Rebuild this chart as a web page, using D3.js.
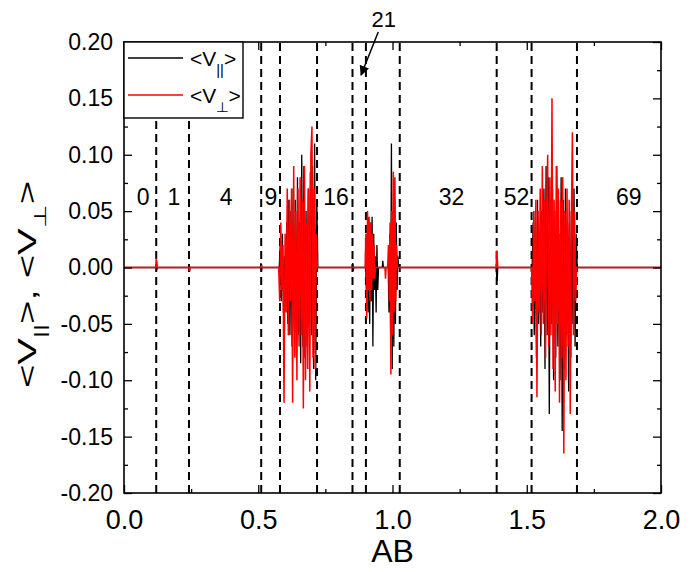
<!DOCTYPE html>
<html><head><meta charset="utf-8">
<script src="https://cdn.jsdelivr.net/npm/d3@7"></script>
<style>body{margin:0;background:#fff}svg{display:block}text{font-family:"Liberation Sans",Arial,sans-serif}</style>
</head><body><svg id="c" width="694" height="572"></svg>
<script>
// ---- data ----
const xTicks = [0, 0.5, 1.0, 1.5, 2.0];
const xMinor = [0.25, 0.75, 1.25, 1.75];
const yTicks = [-0.20, -0.15, -0.10, -0.05, 0.00, 0.05, 0.10, 0.15, 0.20];
const yMinor = [-0.175, -0.125, -0.075, -0.025, 0.025, 0.075, 0.125, 0.175];
const dashedX = [0.12, 0.242, 0.511, 0.581, 0.719, 0.851, 0.901, 1.027, 1.388, 1.518, 1.687];
const regionLabels = ["0", "1", "4", "9", "16", "32", "52", "69"];
const regionLabelX = [0.071, 0.186, 0.38, 0.547, 0.79, 1.22, 1.462, 1.88];
const regionLabelY = 0.055;
const arrowLabel = "21";

const vPar = [
 [0,0],[0.118,0],[0.12,0.003],[0.122,-0.002],[0.124,0],[0.24,0],[0.242,0.003],[0.244,-0.004],[0.246,0],
 [0.508,0],[0.51,0.004],[0.512,-0.003],[0.514,0],
 [0.578,0],[0.582,0.02],[0.586,-0.03],[0.590,0.03],[0.594,-0.04],[0.598,0.01],[0.602,-0.02],[0.606,0.04],
 [0.610,-0.05],[0.614,0.06],[0.618,-0.06],[0.622,0.05],[0.626,-0.07],[0.630,0.07],[0.634,-0.05],[0.638,0.06],
 [0.642,-0.08],[0.646,0.08],[0.650,-0.06],[0.654,0.04],[0.658,-0.085],[0.662,0.10],[0.666,-0.07],[0.670,0.09],
 [0.674,-0.08],[0.678,0.05],[0.682,-0.07],[0.686,0.07],[0.690,-0.05],[0.694,0.085],[0.698,-0.06],[0.702,0.09],
 [0.706,-0.09],[0.710,0.11],[0.714,-0.10],[0.718,0.06],[0.722,0],
 [0.85,0],[0.852,0.004],[0.854,-0.003],[0.856,0],
 [0.900,0],[0.903,-0.02],[0.906,0.03],[0.909,-0.04],[0.912,0.02],[0.915,-0.05],[0.918,0.04],[0.921,-0.03],
 [0.924,0.045],[0.927,-0.07],[0.930,0.03],[0.933,-0.02],[0.936,0.01],[0.939,-0.04],[0.942,0.02],[0.945,-0.02],[0.948,0],
 [0.962,0],[0.964,0.006],[0.966,0],
 [0.984,0],[0.987,-0.04],[0.990,0.03],[0.993,-0.06],[0.996,0.11],[0.999,-0.09],[1.002,0.05],[1.005,-0.07],
 [1.008,0.06],[1.011,-0.05],[1.014,0.04],[1.017,-0.02],[1.020,0.01],[1.023,0],
 [1.386,0],[1.388,-0.008],[1.390,-0.012],[1.392,0],
 [1.520,0],[1.524,0.04],[1.528,-0.06],[1.532,0.05],[1.536,-0.08],[1.540,0.06],[1.544,-0.05],[1.548,0.03],
 [1.552,-0.07],[1.556,0.05],[1.560,-0.04],[1.564,0.07],[1.568,-0.09],[1.572,0.09],[1.576,-0.06],[1.580,0.08],
 [1.584,-0.13],[1.588,0.06],[1.592,-0.05],[1.596,0.07],[1.600,-0.10],[1.604,0.05],[1.608,-0.08],[1.612,0.09],
 [1.616,-0.07],[1.620,0.03],[1.624,-0.10],[1.628,0.08],[1.632,-0.145],[1.636,0.06],[1.640,-0.09],[1.644,0.07],
 [1.648,-0.06],[1.652,0.04],[1.656,-0.11],[1.660,0.05],[1.664,-0.08],[1.668,0.06],[1.672,-0.05],[1.676,0.07],
 [1.680,-0.07],[1.684,0.03],[1.688,0],
 [2.0,0]
];
const vPerp = [
 [0,0],[0.118,0],[0.120,0.007],[0.122,0.006],[0.124,0],[0.242,0],[0.244,-0.003],[0.246,0],
 [0.51,0],[0.512,0.002],[0.514,0],
 [0.576,0],[0.580,-0.03],[0.584,0.04],[0.588,-0.02],[0.592,0.02],[0.596,-0.12],[0.600,0.03],[0.604,-0.04],
 [0.608,0.07],[0.612,-0.06],[0.616,0.06],[0.620,-0.03],[0.624,0.07],[0.628,-0.12],[0.632,0.09],[0.636,-0.08],
 [0.640,0.05],[0.644,-0.10],[0.648,0.07],[0.652,-0.07],[0.656,0.08],[0.660,-0.06],[0.664,0.06],[0.668,-0.125],
 [0.672,0.09],[0.676,-0.10],[0.680,0.04],[0.684,-0.09],[0.688,0.07],[0.692,-0.11],[0.696,0.10],[0.700,0.125],
 [0.704,-0.08],[0.708,0.07],[0.712,-0.09],[0.716,0.03],[0.720,0],
 [0.898,0],[0.901,0.03],[0.904,-0.045],[0.907,0.05],[0.910,-0.02],[0.913,0.045],[0.916,-0.03],[0.919,0.04],
 [0.922,-0.02],[0.925,0.03],[0.928,-0.01],[0.931,0.02],[0.934,-0.01],[0.937,0],
 [0.972,0],[0.974,-0.01],[0.976,0],
 [0.982,0],[0.985,0.02],[0.988,-0.03],[0.991,0.04],[0.994,-0.095],[0.997,0.05],[1.000,-0.06],[1.003,0.085],
 [1.006,-0.04],[1.009,0.08],[1.012,-0.03],[1.015,0.02],[1.018,0],
 [1.386,0],[1.388,0.015],[1.390,0.01],[1.392,0],
 [1.518,0],[1.522,-0.05],[1.526,0.05],[1.530,-0.03],[1.534,0.06],[1.538,-0.115],[1.542,0.05],[1.546,-0.04],
 [1.550,0.07],[1.554,-0.06],[1.558,0.09],[1.562,-0.05],[1.566,0.06],[1.570,-0.08],[1.574,0.05],[1.578,0.10],
 [1.582,-0.07],[1.586,0.08],[1.590,-0.06],[1.594,0.15],[1.598,-0.09],[1.602,0.06],[1.606,-0.11],[1.610,0.09],
 [1.614,-0.05],[1.618,0.07],[1.622,-0.12],[1.626,0.06],[1.630,-0.08],[1.634,0.08],[1.638,-0.165],[1.642,0.05],
 [1.646,-0.10],[1.650,0.07],[1.654,-0.07],[1.658,0.06],[1.662,-0.13],[1.666,0.04],[1.670,0.12],[1.674,-0.06],
 [1.678,0.05],[1.682,-0.03],[1.686,0],
 [2.0,0]
];

// ---- drawing ----
const svg = d3.select("#c");
const L = 124, R = 661, T = 42, B = 493;
const x = d3.scaleLinear().domain([0, 2]).range([L, R]);
const y = d3.scaleLinear().domain([-0.2, 0.2]).range([B, T]);

// dashed lines
const legendBottom = 118, legendRight = 243;
svg.append("g").selectAll("line").data(dashedX).join("line")
  .attr("x1", d => x(d)).attr("x2", d => x(d))
  .attr("y1", B).attr("y2", d => x(d) < legendRight ? legendBottom : T)
  .attr("stroke", "#000").attr("stroke-width", 2).attr("stroke-dasharray", "8,5");

// series
const line = d3.line().x(d => x(d[0])).y(d => y(d[1]));
svg.append("path").datum(vPar).attr("d", line).attr("fill", "none").attr("stroke", "#000").attr("stroke-width", 1.3);
svg.append("path").datum(vPerp).attr("d", line).attr("fill", "none").attr("stroke", "#ff0000").attr("stroke-width", 1.5);

// axes
function styleAxis(fs) {
  return g => {
    g.select(".domain").remove();
    g.selectAll("line").attr("stroke", "#000").attr("stroke-width", 1.3);
    g.selectAll("text").attr("font-size", fs).attr("fill", "#000").style("font-family", "Liberation Sans, Arial, sans-serif");
  };
}
const fmtX = d => d3.format(".1f")(d).replace("\u2212", "-");
const fmtY = d => d3.format(".2f")(d).replace("\u2212", "-");
svg.append("g").attr("transform", `translate(0,${B})`)
  .call(d3.axisBottom(x).tickValues(xTicks).tickSize(-8).tickPadding(17).tickFormat(fmtX)).call(styleAxis(27));
svg.append("g").attr("transform", `translate(0,${B})`)
  .call(d3.axisBottom(x).tickValues(xMinor).tickSize(-4).tickFormat("")).call(styleAxis(27));
svg.append("g").attr("transform", `translate(0,${T})`)
  .call(d3.axisTop(x).tickValues(xTicks).tickSize(-8).tickFormat("")).call(styleAxis(27));
svg.append("g").attr("transform", `translate(0,${T})`)
  .call(d3.axisTop(x).tickValues(xMinor).tickSize(-4).tickFormat("")).call(styleAxis(27));
svg.append("g").attr("transform", `translate(${L},0)`)
  .call(d3.axisLeft(y).tickValues(yTicks).tickSize(-8).tickPadding(11).tickFormat(fmtY)).call(styleAxis(23));
svg.append("g").attr("transform", `translate(${L},0)`)
  .call(d3.axisLeft(y).tickValues(yMinor).tickSize(-4).tickFormat("")).call(styleAxis(23));
svg.append("g").attr("transform", `translate(${R},0)`)
  .call(d3.axisRight(y).tickValues(yTicks).tickSize(-8).tickFormat("")).call(styleAxis(23));
svg.append("g").attr("transform", `translate(${R},0)`)
  .call(d3.axisRight(y).tickValues(yMinor).tickSize(-4).tickFormat("")).call(styleAxis(23));

svg.append("rect").attr("x", L).attr("y", T).attr("width", R - L).attr("height", B - T)
  .attr("fill", "none").attr("stroke", "#000").attr("stroke-width", 1.6);

// legend
const lg = svg.append("g");
lg.append("rect").attr("x", L).attr("y", T).attr("width", legendRight - L).attr("height", legendBottom - T)
  .attr("fill", "#fff").attr("stroke", "#000").attr("stroke-width", 1.4);
const legItems = [{c: "#000", sub: "||", yy: 58}, {c: "#ff0000", sub: "\u22A5", yy: 95}];
legItems.forEach(it => {
  lg.append("line").attr("x1", 128).attr("x2", 183).attr("y1", it.yy).attr("y2", it.yy)
    .attr("stroke", it.c).attr("stroke-width", 1.3);
  const t = lg.append("text").attr("transform", `translate(190,${it.yy + 8}) scale(1.05,1)`).attr("font-size", 20);
  t.append("tspan").text("<V");
  t.append("tspan").attr("font-size", 14).attr("dy", 9).text(it.sub);
  t.append("tspan").attr("dy", -9).text(">");
});

// region labels
svg.append("g").selectAll("text").data(regionLabels).join("text")
  .attr("x", (d, i) => x(regionLabelX[i])).attr("y", y(regionLabelY))
  .attr("text-anchor", "middle").attr("font-size", 23).text(d => d);

// arrow label "21"
svg.append("defs").append("marker").attr("id", "ah").attr("viewBox", "0 0 10 10")
  .attr("refX", 9).attr("refY", 5).attr("markerWidth", 10).attr("markerHeight", 10).attr("orient", "auto")
  .attr("markerUnits", "userSpaceOnUse")
  .append("path").attr("d", "M0,0 L10,5 L0,10 z").attr("fill", "#000");
svg.append("text").attr("x", x(0.967)).attr("y", 27).attr("text-anchor", "middle").attr("font-size", 22).text(arrowLabel);
svg.append("line").attr("x1", x(0.947)).attr("y1", 32).attr("x2", x(0.883)).attr("y2", 75)
  .attr("stroke", "#000").attr("stroke-width", 1.5).attr("marker-end", "url(#ah)");

// axis titles
svg.append("text").attr("x", (L + R) / 2).attr("y", 562).attr("text-anchor", "middle").attr("font-size", 32).text("AB");
const yt = svg.append("text").attr("transform", `translate(36,284.5) rotate(-90) scale(1.6,1)`)
  .attr("text-anchor", "middle").attr("font-size", 25);
yt.append("tspan").text("<V");
yt.append("tspan").attr("font-size", 17).attr("dy", 10).text("||");
yt.append("tspan").attr("dy", -10).text(">, <V");
yt.append("tspan").attr("font-size", 17).attr("dy", 10).text("\u22A5");
yt.append("tspan").attr("dy", -10).text(">");
</script></body></html>
